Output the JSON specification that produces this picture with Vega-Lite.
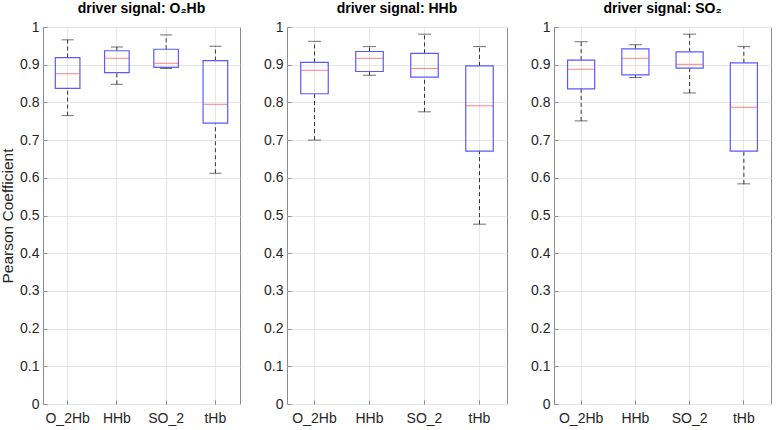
{
  "$schema": "https://vega.github.io/schema/vega-lite/v6.json",
  "padding": {"left": 0, "top": 1, "right": 2, "bottom": 4},
  "background": "white",
  "bounds": "flush",
  "spacing": 47,
  "datasets": {
    "p1": [
      {"var": "O_2Hb", "lo": 0.765, "q1": 0.837, "med": 0.876, "q3": 0.919, "hi": 0.966},
      {"var": "HHb", "lo": 0.848, "q1": 0.879, "med": 0.917, "q3": 0.937, "hi": 0.947},
      {"var": "SO_2", "lo": 0.890, "q1": 0.893, "med": 0.904, "q3": 0.941, "hi": 0.979},
      {"var": "tHb", "lo": 0.612, "q1": 0.745, "med": 0.795, "q3": 0.911, "hi": 0.949}
    ],
    "p2": [
      {"var": "O_2Hb", "lo": 0.700, "q1": 0.823, "med": 0.885, "q3": 0.906, "hi": 0.962},
      {"var": "HHb", "lo": 0.872, "q1": 0.882, "med": 0.917, "q3": 0.935, "hi": 0.948},
      {"var": "SO_2", "lo": 0.775, "q1": 0.867, "med": 0.890, "q3": 0.930, "hi": 0.981},
      {"var": "tHb", "lo": 0.477, "q1": 0.671, "med": 0.791, "q3": 0.897, "hi": 0.948}
    ],
    "p3": [
      {"var": "O_2Hb", "lo": 0.751, "q1": 0.836, "med": 0.888, "q3": 0.912, "hi": 0.961},
      {"var": "HHb", "lo": 0.866, "q1": 0.873, "med": 0.917, "q3": 0.942, "hi": 0.953},
      {"var": "SO_2", "lo": 0.825, "q1": 0.891, "med": 0.901, "q3": 0.934, "hi": 0.981},
      {"var": "tHb", "lo": 0.584, "q1": 0.671, "med": 0.787, "q3": 0.905, "hi": 0.948}
    ]
  },
  "hconcat": [
    {
      "width": 197, "height": 377,
      "title": "driver signal: O₂Hb",
      "data": {"name": "p1"},
      "encoding": {
        "x": {"field": "var", "type": "nominal", "sort": ["O_2Hb", "HHb", "SO_2", "tHb"],
              "scale": {"paddingInner": 0, "paddingOuter": 0},
              "axis": {"title": null, "labelAngle": 0, "bandPosition": 0.5, "grid": true}}
      },
      "layer": [
        {"mark": {"type": "rule", "strokeDash": [4, 3], "color": "#333333"},
         "encoding": {"y": {"field": "lo", "type": "quantitative", "title": "Pearson Coefficient",
                            "scale": {"domain": [0, 1], "nice": false},
                            "axis": {"values": [0, 0.1, 0.2, 0.3, 0.4, 0.5, 0.6, 0.7, 0.8, 0.9, 1], "tickCount": 20, "format": "~g", "grid": true, "labelOverlap": false}},
                      "y2": {"field": "q1"}}},
        {"mark": {"type": "rule", "strokeDash": [4, 3], "color": "#333333"},
         "encoding": {"y": {"field": "q3", "type": "quantitative", "title": "Pearson Coefficient"}, "y2": {"field": "hi"}}},
        {"mark": {"type": "tick", "size": 12, "thickness": 1, "color": "#333333"},
         "encoding": {"y": {"field": "lo", "type": "quantitative", "title": "Pearson Coefficient"}}},
        {"mark": {"type": "tick", "size": 12, "thickness": 1, "color": "#333333"},
         "encoding": {"y": {"field": "hi", "type": "quantitative", "title": "Pearson Coefficient"}}},
        {"mark": {"type": "bar", "width": {"band": 0.5}, "fillOpacity": 0, "stroke": "#5a5aff", "strokeWidth": 1.2},
         "encoding": {"y": {"field": "q1", "type": "quantitative", "title": "Pearson Coefficient"}, "y2": {"field": "q3"}}},
        {"mark": {"type": "tick", "size": 24.6, "thickness": 1, "color": "#ff4d4d"},
         "encoding": {"y": {"field": "med", "type": "quantitative", "title": "Pearson Coefficient"}}}
      ]
    },
    {
      "width": 220, "height": 377,
      "title": "driver signal: HHb",
      "data": {"name": "p2"},
      "encoding": {
        "x": {"field": "var", "type": "nominal", "sort": ["O_2Hb", "HHb", "SO_2", "tHb"],
              "scale": {"paddingInner": 0, "paddingOuter": 0},
              "axis": {"title": null, "labelAngle": 0, "bandPosition": 0.5, "grid": true}}
      },
      "layer": [
        {"mark": {"type": "rule", "strokeDash": [4, 3], "color": "#333333"},
         "encoding": {"y": {"field": "lo", "type": "quantitative", "title": null,
                            "scale": {"domain": [0, 1], "nice": false},
                            "axis": {"values": [0, 0.1, 0.2, 0.3, 0.4, 0.5, 0.6, 0.7, 0.8, 0.9, 1], "tickCount": 20, "format": "~g", "grid": true, "labelOverlap": false}},
                      "y2": {"field": "q1"}}},
        {"mark": {"type": "rule", "strokeDash": [4, 3], "color": "#333333"},
         "encoding": {"y": {"field": "q3", "type": "quantitative", "title": null}, "y2": {"field": "hi"}}},
        {"mark": {"type": "tick", "size": 13, "thickness": 1, "color": "#333333"},
         "encoding": {"y": {"field": "lo", "type": "quantitative", "title": null}}},
        {"mark": {"type": "tick", "size": 13, "thickness": 1, "color": "#333333"},
         "encoding": {"y": {"field": "hi", "type": "quantitative", "title": null}}},
        {"mark": {"type": "bar", "width": {"band": 0.5}, "fillOpacity": 0, "stroke": "#5a5aff", "strokeWidth": 1.2},
         "encoding": {"y": {"field": "q1", "type": "quantitative", "title": null}, "y2": {"field": "q3"}}},
        {"mark": {"type": "tick", "size": 27.5, "thickness": 1, "color": "#ff4d4d"},
         "encoding": {"y": {"field": "med", "type": "quantitative", "title": null}}}
      ]
    },
    {
      "width": 217, "height": 377,
      "title": "driver signal: SO₂",
      "data": {"name": "p3"},
      "encoding": {
        "x": {"field": "var", "type": "nominal", "sort": ["O_2Hb", "HHb", "SO_2", "tHb"],
              "scale": {"paddingInner": 0, "paddingOuter": 0},
              "axis": {"title": null, "labelAngle": 0, "bandPosition": 0.5, "grid": true}}
      },
      "layer": [
        {"mark": {"type": "rule", "strokeDash": [4, 3], "color": "#333333"},
         "encoding": {"y": {"field": "lo", "type": "quantitative", "title": null,
                            "scale": {"domain": [0, 1], "nice": false},
                            "axis": {"values": [0, 0.1, 0.2, 0.3, 0.4, 0.5, 0.6, 0.7, 0.8, 0.9, 1], "tickCount": 20, "format": "~g", "grid": true, "labelOverlap": false}},
                      "y2": {"field": "q1"}}},
        {"mark": {"type": "rule", "strokeDash": [4, 3], "color": "#333333"},
         "encoding": {"y": {"field": "q3", "type": "quantitative", "title": null}, "y2": {"field": "hi"}}},
        {"mark": {"type": "tick", "size": 13, "thickness": 1, "color": "#333333"},
         "encoding": {"y": {"field": "lo", "type": "quantitative", "title": null}}},
        {"mark": {"type": "tick", "size": 13, "thickness": 1, "color": "#333333"},
         "encoding": {"y": {"field": "hi", "type": "quantitative", "title": null}}},
        {"mark": {"type": "bar", "width": {"band": 0.5}, "fillOpacity": 0, "stroke": "#5a5aff", "strokeWidth": 1.2},
         "encoding": {"y": {"field": "q1", "type": "quantitative", "title": null}, "y2": {"field": "q3"}}},
        {"mark": {"type": "tick", "size": 27, "thickness": 1, "color": "#ff4d4d"},
         "encoding": {"y": {"field": "med", "type": "quantitative", "title": null}}}
      ]
    }
  ],
  "config": {
    "view": {"stroke": "#8c8c8c", "strokeWidth": 1},
    "axis": {
      "labelFont": "Liberation Sans", "labelFontSize": 14, "labelColor": "#262626",
      "titleFont": "Liberation Sans", "titleFontSize": 15.5, "titleFontWeight": "normal", "titleColor": "#262626",
      "domain": false, "tickColor": "#8c8c8c", "tickSize": -4, "labelPadding": 8,
      "gridColor": "#e6e6e6", "gridWidth": 1, "labelOverlap": false
    },
    "axisX": {"labelPadding": 11},
    "axisY": {"titlePadding": 4},
    "title": {"font": "Liberation Sans", "fontSize": 14, "fontWeight": "bold", "color": "#000000", "offset": 4}
  }
}
